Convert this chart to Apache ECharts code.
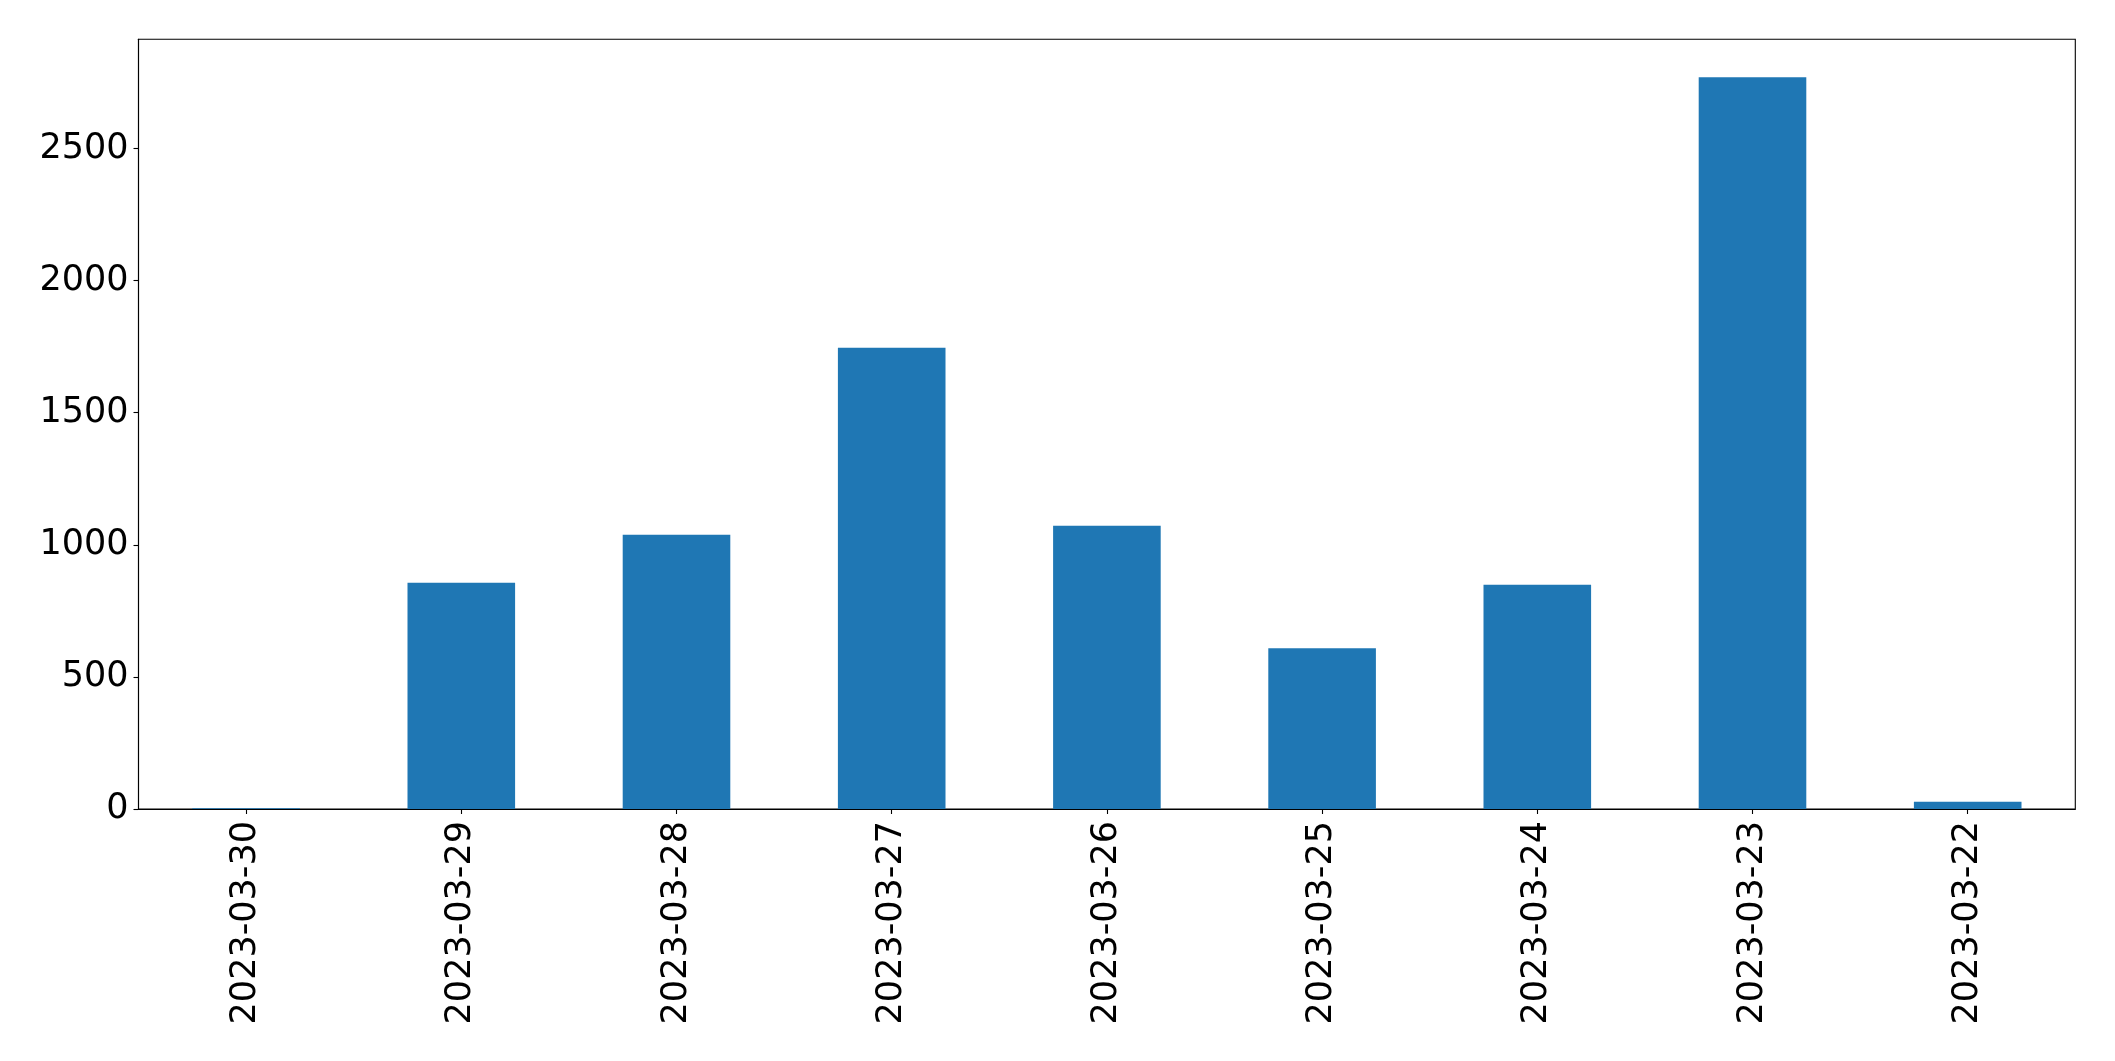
<!DOCTYPE html>
<html>
<head>
<meta charset="utf-8">
<script src="https://cdn.jsdelivr.net/npm/echarts@6/dist/echarts.min.js"></script>
<style>
html,body{margin:0;padding:0;background:#fff;}
#chart{width:2115px;height:1061px;}
</style>
</head>
<body>
<div id="chart"></div>
<script>
const categories = ["2023-03-30","2023-03-29","2023-03-28","2023-03-27","2023-03-26","2023-03-25","2023-03-24","2023-03-23","2023-03-22"];
const values = [3, 856, 1038, 1746, 1072, 608, 849, 2769, 27];
const yTicks = [0, 500, 1000, 1500, 2000, 2500];

const chart = echarts.init(document.getElementById('chart'), null, {renderer: 'canvas'});
const font = "DejaVu Sans";
chart.setOption({
  animation: false,
  backgroundColor: '#ffffff',
  grid: {
    left: 138.5, top: 39.3, right: 39.7, bottom: 252,
    show: true, borderColor: '#000', borderWidth: 1.1, backgroundColor: 'transparent'
  },
  xAxis: {
    type: 'category',
    data: categories,
    axisLine: {show: true, lineStyle: {color: '#000', width: 1.1}},
    axisTick: {show: true, alignWithLabel: true, length: 5, lineStyle: {color: '#000', width: 1.1}},
    axisLabel: {rotate: 90, fontFamily: font, fontSize: 35, color: '#000', margin: 12, interval: 0},
    splitLine: {show: false}
  },
  yAxis: {
    type: 'value',
    min: 0,
    max: 2913,
    interval: 500,
    axisLine: {show: true, lineStyle: {color: '#000', width: 1.1}},
    axisTick: {show: true, length: 5, customValues: yTicks, lineStyle: {color: '#000', width: 1.1}},
    axisLabel: {
      fontFamily: font, fontSize: 35, color: '#000', margin: 10,
      customValues: yTicks,
      formatter: function (v) { return String(Math.round(v)); }
    },
    splitLine: {show: false}
  },
  series: [{
    type: 'bar',
    data: values,
    barWidth: '50%',
    itemStyle: {color: '#1f77b4'}
  }]
});
</script>
</body>
</html>
